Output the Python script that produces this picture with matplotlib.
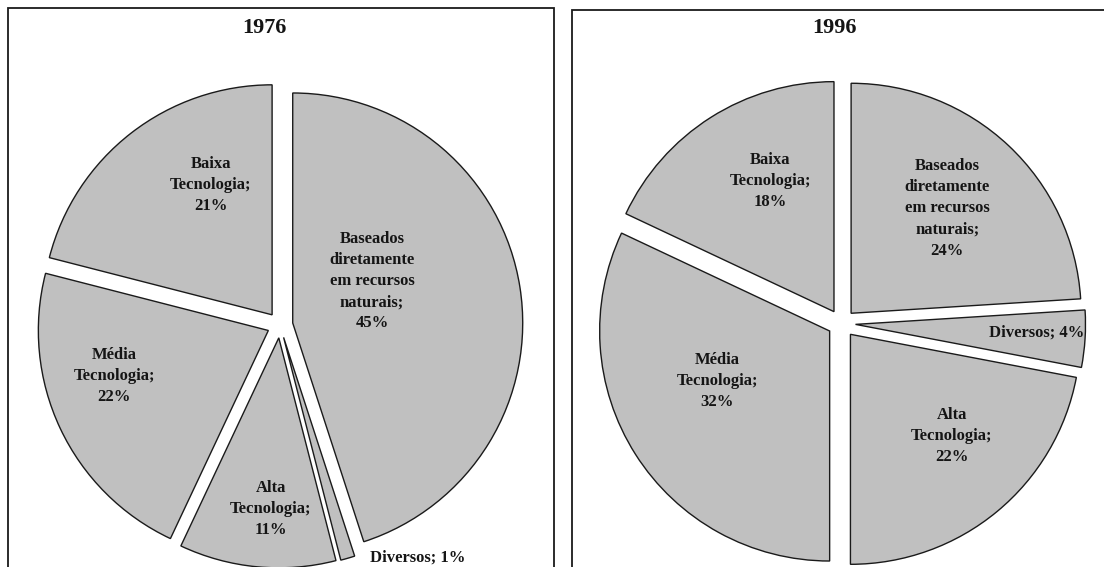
import matplotlib.pyplot as plt
from matplotlib.patches import Rectangle

# data
categories = ['Baseados\ndiretamente\nem recursos\nnaturais', 'Diversos',
              'Alta\nTecnologia', 'Média\nTecnologia', 'Baixa\nTecnologia']
shares_1976 = [45, 1, 11, 22, 21]
shares_1996 = [24, 4, 22, 32, 18]
years = ['1976', '1996']

# label anchors relative to pie centre (pie radius = 1)
label_pos_1976 = [(0.40, 0.19), (0.60, -1.01), (-0.04, -0.80), (-0.72, -0.22), (-0.30, 0.61)]
label_pos_1996 = [(0.46, 0.50), (0.85, -0.04), (0.48, -0.49), (-0.54, -0.25), (-0.31, 0.62)]

W, H = 1104, 567
FONT = ['Liberation Serif', 'DejaVu Serif']


def label_text(cat, val):
    if cat == 'Diversos':
        return f'{cat}; {val}%'
    return f'{cat};\n{val}%'


def draw_pie(ax, values, centre, radius, explode, label_pos):
    # pie's explode is in data units, so scale it by the radius
    wedges, _ = ax.pie(values, startangle=90, counterclock=False,
                       explode=[explode * radius] * len(values), center=centre, radius=radius,
                       colors=['#c0c0c0'] * len(values),
                       wedgeprops=dict(edgecolor='#1a1a1a', linewidth=1.0))
    for cat, val, (dx, dy) in zip(categories, values, label_pos):
        ax.text(centre[0] + dx * radius, centre[1] + dy * radius, label_text(cat, val),
                ha='center', va='center', fontsize=12, fontweight='bold',
                family=FONT, color='#151515', linespacing=1.42)


fig = plt.figure(figsize=(W / 100, H / 100), dpi=100)
ax = fig.add_axes([0, 0, 1, 1])

draw_pie(ax, shares_1976, (280, H - 325), 230, 0.056, label_pos_1976)
draw_pie(ax, shares_1996, (841.5, H - 323.5), 230, 0.061, label_pos_1996)

# panel frames
ax.add_patch(Rectangle((8, -20), 546, H - 8 + 20, fill=False, edgecolor='#1a1a1a', linewidth=1.3))
ax.add_patch(Rectangle((572, -20), 600, H - 10 + 20, fill=False, edgecolor='#1a1a1a', linewidth=1.3))

ax.text(264, H - 28, years[0], ha='center', va='center', fontsize=16,
        fontweight='bold', family=FONT, color='#151515')
ax.text(834, H - 28, years[1], ha='center', va='center', fontsize=16,
        fontweight='bold', family=FONT, color='#151515')

ax.set_aspect('auto')
ax.set_xlim(0, W)
ax.set_ylim(0, H)
ax.axis('off')

fig.savefig('out.png', dpi=100)
